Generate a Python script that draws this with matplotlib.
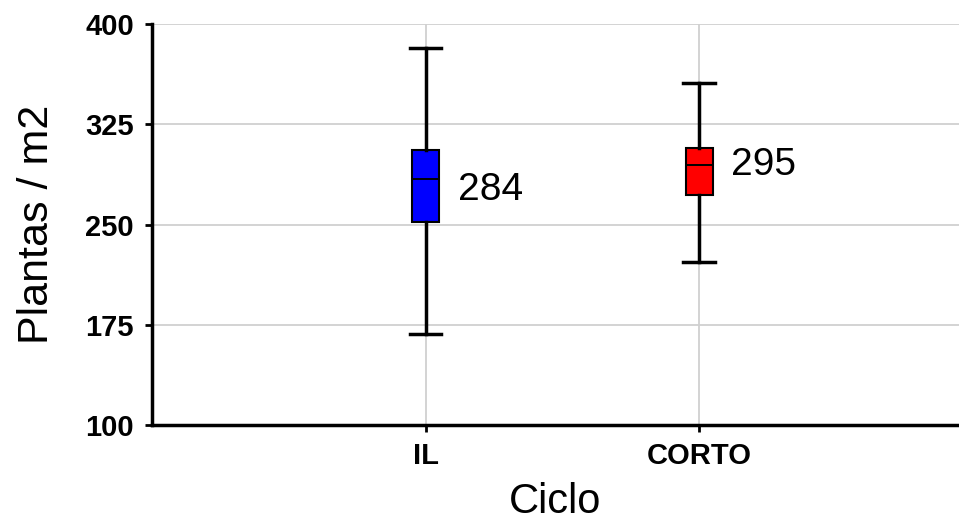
import matplotlib
matplotlib.use("Agg")
import matplotlib.pyplot as plt

# box summary per ciclo
ciclos = ["IL", "CORTO"]
whisker_low = [168, 222]
q1 = [252, 272]
medians = [284, 295]
q3 = [306, 307]
whisker_high = [382, 356]
box_colors = ["#0000ff", "#ff0000"]

plt.rcParams["font.family"] = ["Liberation Sans", "DejaVu Sans"]

fig = plt.figure(figsize=(9.59, 5.21), dpi=100)
ax = fig.add_axes([0.1585, 0.1843, 0.8415, 0.7691])

positions = list(range(1, len(ciclos) + 1))
stats = []
for i, name in enumerate(ciclos):
    stats.append({"label": name, "whislo": whisker_low[i], "q1": q1[i],
                  "med": medians[i], "q3": q3[i], "whishi": whisker_high[i]})

bp = ax.bxp(stats, positions=positions, widths=0.098, patch_artist=True,
            showfliers=False, capwidths=0.115,
            boxprops=dict(linewidth=1.5, edgecolor="black"),
            medianprops=dict(color="black", linewidth=1.4),
            whiskerprops=dict(color="black", linewidth=2.5),
            capprops=dict(color="black", linewidth=2.5),
            zorder=3)
for patch, c in zip(bp["boxes"], box_colors):
    patch.set_facecolor(c)

# value labels beside each box
label_dy = [-11, 0]
for x, m, dy in zip(positions, medians, label_dy):
    ax.annotate(str(m), xy=(x, m), xytext=(32, dy), textcoords="offset pixels",
                ha="left", va="center", fontsize=28, color="black")

ax.set_xlim(0, 2.95)
ax.set_ylim(100, 400)
ax.set_yticks([100, 175, 250, 325, 400])
ax.set_xticks(positions)
ax.set_xticklabels(ciclos)

ax.grid(True, color="#d0d0d0", linewidth=1.3, zorder=0)
ax.set_axisbelow(True)

for s in ["top", "right"]:
    ax.spines[s].set_visible(False)
for s in ["left", "bottom"]:
    ax.spines[s].set_linewidth(2.5)
    ax.spines[s].set_color("black")

ax.tick_params(axis="both", direction="out", length=5, width=2, color="black",
               pad=8, labelsize=21)
ax.tick_params(axis="x", pad=7)
for lbl in ax.get_xticklabels() + ax.get_yticklabels():
    lbl.set_fontweight("bold")

ax.set_xlabel("Ciclo", fontsize=30, labelpad=9)
ax.set_ylabel("Plantas / m2", fontsize=31, labelpad=20)

fig.savefig("out.png", dpi=100)
